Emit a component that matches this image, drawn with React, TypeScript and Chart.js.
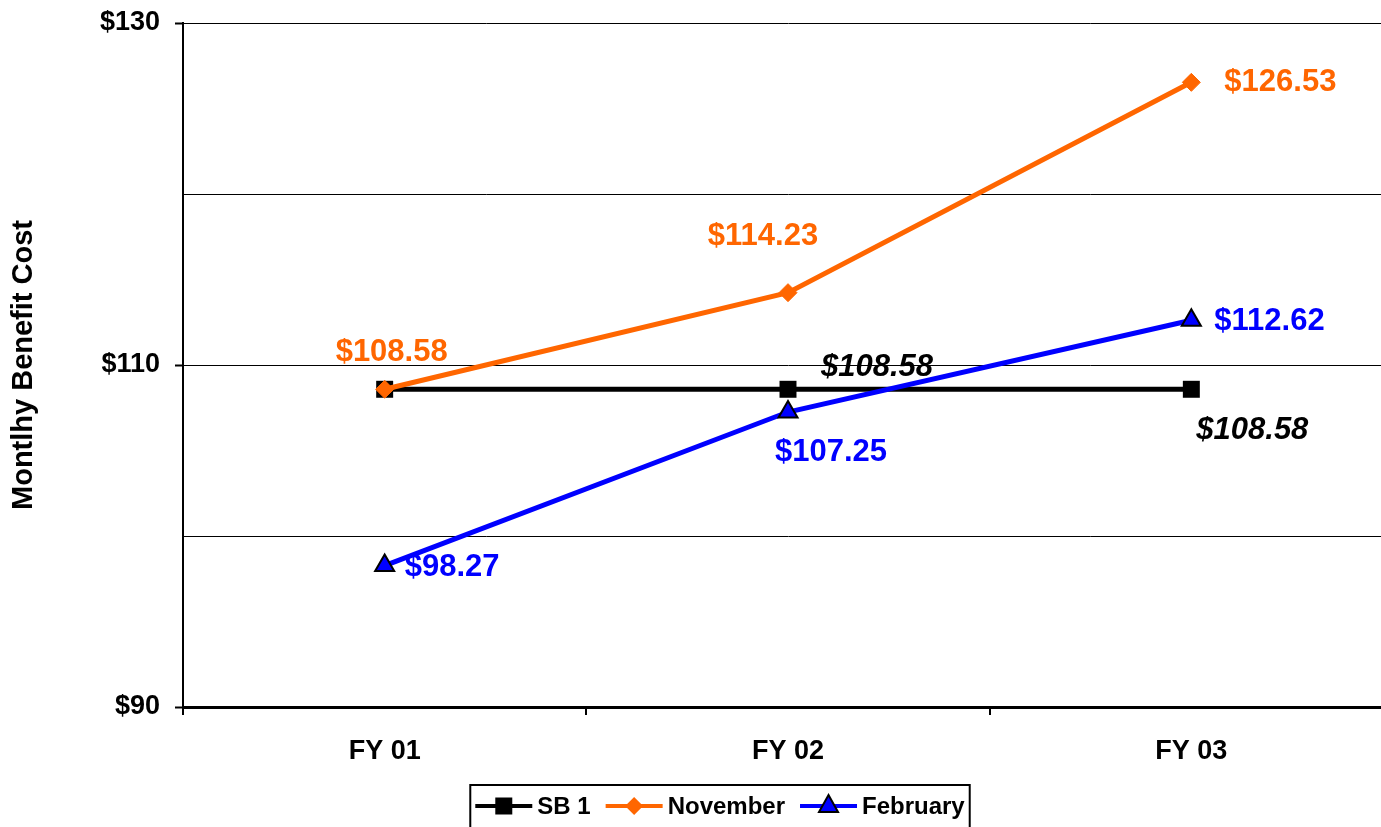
import React, { useEffect, useRef } from "react";
import { Chart, registerables } from "chart.js";

Chart.register(...registerables);

const FONT = "'Liberation Sans', Arial, Helvetica, sans-serif";

const categories = ["FY 01", "FY 02", "FY 03"];
const seriesNames = ["SB 1", "November", "February"];
const sb1Values = [108.58, 108.58, 108.58];
const novemberValues = [108.58, 114.23, 126.53];
const februaryValues = [98.27, 107.25, 112.62];
const seriesColors = ["#000000", "#FF6600", "#0000FF"];
const yTickValues = [90, 110, 130];

type Place = [number, number, CanvasTextAlign] | null;
const labelPlacement: Place[][] = [
  [null, [89, -22, "center"], [61, 41, "center"]],
  [[7, -37, "center"], [-25, -56, "center"], [33, 0, "left"]],
  [[20, 2, "left"], [43, 40, "center"], [23, 1, "left"]],
];

const fmt = (v: number) => "$" + v.toFixed(2);

const dataLabelsPlugin = {
  id: "dataLabels",
  afterDatasetsDraw(chart: any) {
    const ctx = chart.ctx;
    ctx.save();
    chart.data.datasets.forEach((ds: any, di: number) => {
      const meta = chart.getDatasetMeta(di);
      meta.data.forEach((pt: any, i: number) => {
        const p = labelPlacement[di][i];
        if (!p) return;
        ctx.font = (di === 0 ? "italic bold 31px " : "bold 31px ") + FONT;
        ctx.fillStyle = seriesColors[di];
        ctx.textAlign = p[2];
        ctx.textBaseline = "middle";
        ctx.fillText(fmt(ds.data[i]), pt.x + p[0], pt.y + p[1]);
      });
    });
    ctx.restore();
  },
};

const legendPlugin = {
  id: "boxLegend",
  afterDraw(chart: any) {
    const ctx = chart.ctx;
    ctx.save();
    ctx.font = "bold 24px " + FONT;
    const sampleW = 57;
    const gapText = 5;
    const gapItem = 15;
    const padX = 5;
    const widths = seriesNames.map((n) => ctx.measureText(n).width);
    const total =
      widths.reduce((a, w) => a + sampleW + gapText + w, 0) + gapItem * (seriesNames.length - 1);
    const centerX = 720;
    const top = 785;
    const left = centerX - total / 2 - padX;
    ctx.strokeStyle = "#000";
    ctx.lineWidth = 2;
    ctx.strokeRect(left, top, total + padX * 2, 80);
    const cy = 806;
    let x = left + padX;
    seriesNames.forEach((name, i) => {
      const color = seriesColors[i];
      ctx.strokeStyle = color;
      ctx.lineWidth = 4;
      ctx.beginPath();
      ctx.moveTo(x, cy);
      ctx.lineTo(x + sampleW, cy);
      ctx.stroke();
      const mx = x + sampleW / 2;
      ctx.fillStyle = color;
      ctx.beginPath();
      if (i === 0) {
        ctx.rect(mx - 8.5, cy - 8.5, 17, 17);
        ctx.fill();
      } else if (i === 1) {
        ctx.moveTo(mx, cy - 9);
        ctx.lineTo(mx + 9, cy);
        ctx.lineTo(mx, cy + 9);
        ctx.lineTo(mx - 9, cy);
        ctx.closePath();
        ctx.fill();
      } else {
        ctx.moveTo(mx, cy - 11);
        ctx.lineTo(mx + 9.5, cy + 6);
        ctx.lineTo(mx - 9.5, cy + 6);
        ctx.closePath();
        ctx.fill();
        ctx.strokeStyle = "#000";
        ctx.lineWidth = 2;
        ctx.stroke();
      }
      ctx.fillStyle = "#000";
      ctx.textAlign = "left";
      ctx.textBaseline = "middle";
      ctx.fillText(name, x + sampleW + gapText, cy + 1);
      x += sampleW + gapText + widths[i] + gapItem;
    });
    ctx.restore();
  },
};

export default function App() {
  const ref = useRef<HTMLCanvasElement | null>(null);
  useEffect(() => {
    if (!ref.current) return;
    Chart.defaults.font.family = FONT;
    const chart = new Chart(ref.current, {
      type: "line",
      data: {
        labels: categories,
        datasets: [
          {
            label: seriesNames[0],
            data: sb1Values,
            borderColor: seriesColors[0],
            backgroundColor: seriesColors[0],
            borderWidth: 5,
            pointStyle: "rect",
            pointRadius: 12,
            pointBorderWidth: 0,
            tension: 0,
            order: 3,
          },
          {
            label: seriesNames[1],
            data: novemberValues,
            borderColor: seriesColors[1],
            backgroundColor: seriesColors[1],
            borderWidth: 5,
            pointStyle: "rectRot",
            pointRadius: 9,
            pointBorderWidth: 1,
            pointBorderColor: seriesColors[1],
            tension: 0,
            order: 2,
          },
          {
            label: seriesNames[2],
            data: februaryValues,
            borderColor: seriesColors[2],
            backgroundColor: seriesColors[2],
            borderWidth: 5,
            pointStyle: "triangle",
            pointRadius: 11,
            pointBorderWidth: 2,
            pointBorderColor: "#000",
            tension: 0,
            order: 1,
          },
        ],
      },
      options: {
        responsive: false,
        animation: false,
        devicePixelRatio: 1,
        layout: { padding: { top: 23, left: 0, right: 2, bottom: 0 } },
        plugins: {
          legend: { display: false },
          tooltip: { enabled: false },
          title: { display: false },
        },
        scales: {
          x: {
            type: "category",
            offset: true,
            grid: {
              offset: true,
              drawOnChartArea: false,
              drawTicks: true,
              tickLength: 8,
              color: "#000",
              lineWidth: 2,
            },
            border: { display: true, color: "#000", width: 3 },
            ticks: {
              color: "#000",
              font: { size: 27, weight: "bold" },
              padding: 20,
              maxRotation: 0,
            },
            afterFit: (s: any) => {
              s.height = 120;
              s.paddingLeft = 0;
              s.paddingRight = 0;
            },
          },
          y: {
            min: 90,
            max: 130,
            ticks: {
              stepSize: 10,
              color: "#000",
              font: { size: 27, weight: "bold" },
              padding: 15,
              callback: (v: any) => (yTickValues.includes(Number(v)) ? "$" + v : ""),
            },
            grid: {
              color: "#000",
              lineWidth: 1,
              tickLength: 8,
              tickWidth: 2,
              tickColor: (c: any) =>
                c.tick && yTickValues.includes(c.tick.value) ? "#000" : "rgba(0,0,0,0)",
            },
            border: { display: true, color: "#000", width: 2 },
            title: {
              display: true,
              text: "Montlhy Benefit Cost",
              color: "#000",
              font: { size: 29, weight: "bold" },
              padding: { top: 7, bottom: 0 },
            },
            afterFit: (s: any) => {
              s.width = 183;
              s.paddingTop = 0;
              s.paddingBottom = 0;
            },
          },
        },
      },
      plugins: [dataLabelsPlugin, legendPlugin],
    } as any);
    return () => chart.destroy();
  }, []);
  return (
    <div
      style={{
        position: "fixed",
        left: 0,
        top: 0,
        width: 1381,
        height: 827,
        overflow: "hidden",
        background: "#fff",
      }}
    >
      <canvas ref={ref} width={1406} height={827} style={{ display: "block", width: 1406, height: 827 }} />
    </div>
  );
}
